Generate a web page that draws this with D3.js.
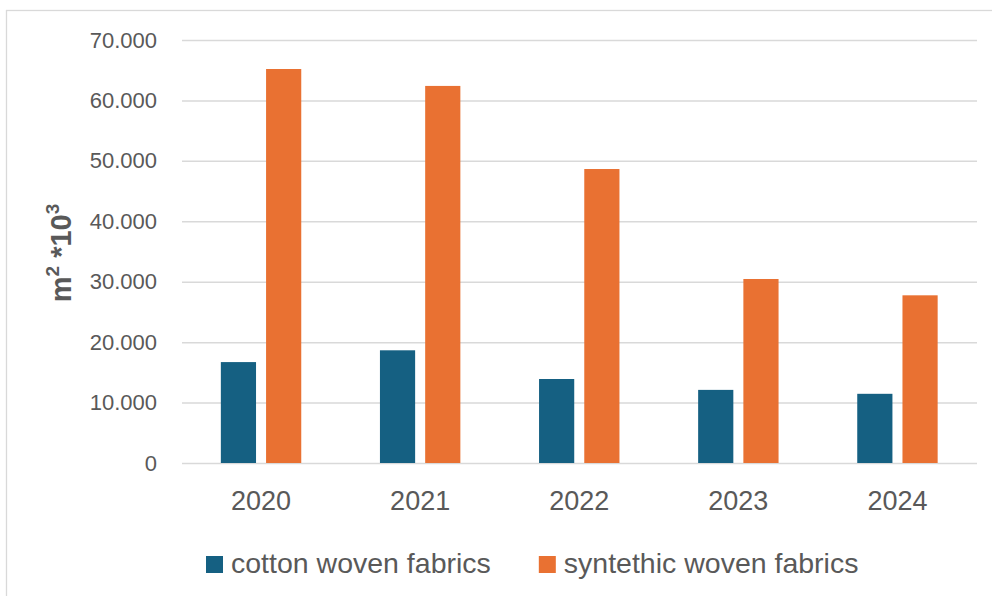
<!DOCTYPE html>
<html>
<head>
<meta charset="utf-8">
<script src="https://cdn.jsdelivr.net/npm/d3@7"></script>
<style>
  html, body { margin: 0; padding: 0; background: #fff; }
  svg { display: block; font-family: "Liberation Sans", Arial, sans-serif; }
</style>
</head>
<body>
<svg id="chart" width="992" height="596"></svg>
<script>
const years = ["2020", "2021", "2022", "2023", "2024"];
const seriesNames = ["cotton woven fabrics", "syntethic woven fabrics"];
const cottonValues = [16700, 18650, 13900, 12100, 11450];
const syntheticValues = [65200, 62400, 48650, 30450, 27750];
const yTicks = [0, 10000, 20000, 30000, 40000, 50000, 60000, 70000];
const seriesColors = ["#156082", "#E97132"];

const seriesValues = [cottonValues, syntheticValues];
const data = years.map((y, i) => ({ year: y, values: seriesNames.map((s, j) => ({ key: s, value: seriesValues[j][i], color: seriesColors[j] })) }));

const svg = d3.select("#chart");
svg.append("rect").attr("width", 992).attr("height", 596).attr("fill", "#fff");
svg.append("rect").attr("x", 6.5).attr("y", 10.5).attr("width", 1100).attr("height", 700)
  .attr("fill", "none").attr("stroke", "#d9d9d9").attr("stroke-width", 1.3);

const x0 = d3.scaleBand().domain(years).range([181.5, 977]).paddingInner(0).paddingOuter(0);
const x1 = d3.scaleBand().domain(seriesNames).range([0, x0.bandwidth()]).paddingInner(0.222).paddingOuter(0.87);
const y = d3.scaleLinear().domain([0, 70000]).range([463, 40]);

const loc = d3.formatLocale({ decimal: ",", thousands: ".", grouping: [3], currency: ["", ""] });
const fmt = loc.format(",");

// gridlines + y tick labels
const yAxis = d3.axisLeft(y).tickValues(yTicks).tickSize(-(977 - 182)).tickFormat(fmt).tickPadding(25);
const gy = svg.append("g").attr("transform", "translate(182,0)").call(yAxis);
gy.select(".domain").remove();
gy.selectAll(".tick line").attr("stroke", "#d9d9d9").attr("stroke-width", 1.5);
gy.selectAll(".tick text").attr("fill", "#595959").attr("font-size", 22).attr("font-family", "Liberation Sans, Arial, sans-serif");

// bars
const groups = svg.append("g").selectAll("g").data(data).join("g")
  .attr("transform", d => `translate(${x0(d.year)},0)`);
groups.selectAll("rect").data(d => d.values).join("rect")
  .attr("x", d => x1(d.key))
  .attr("width", x1.bandwidth())
  .attr("y", d => y(d.value))
  .attr("height", d => y(0) - y(d.value))
  .attr("fill", d => d.color);

// x axis labels
const xAxis = d3.axisBottom(x0).tickSize(0);
const gx = svg.append("g").attr("transform", "translate(0,463)").call(xAxis);
gx.select(".domain").remove();
gx.selectAll(".tick text").attr("fill", "#595959").attr("font-size", 27).attr("font-family", "Liberation Sans, Arial, sans-serif")
  .attr("dy", null).attr("y", 47);

// y axis title
const title = svg.append("text")
  .attr("transform", "translate(71,253) rotate(-90)")
  .attr("text-anchor", "middle")
  .attr("font-weight", "bold")
  .attr("font-size", 29)
  .attr("fill", "#595959");
title.append("tspan").text("m");
title.append("tspan").attr("font-size", 19).attr("dy", -12).text("2");
title.append("tspan").attr("dy", 12).text(" *10");
title.append("tspan").attr("font-size", 19).attr("dy", -12).text("3");

// legend
const legend = svg.append("g");
let lx = 206;
seriesNames.forEach((name, i) => {
  legend.append("rect").attr("x", lx).attr("y", 556).attr("width", 17).attr("height", 17).attr("fill", seriesColors[i]);
  const t = legend.append("text").attr("x", lx + 25).attr("y", 573).attr("font-size", 28.5).attr("fill", "#595959").text(name);
  lx += 25 + t.node().getComputedTextLength() + 48;
});
</script>
</body>
</html>
